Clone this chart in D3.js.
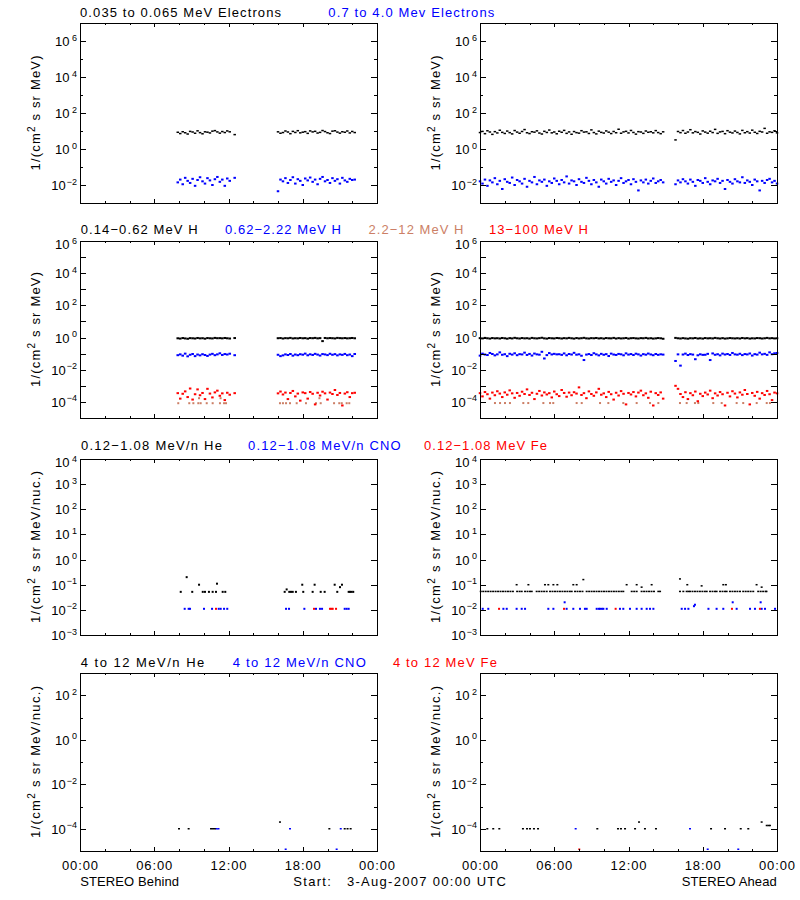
<!DOCTYPE html>
<html><head><meta charset="utf-8">
<script src="https://cdn.jsdelivr.net/npm/d3@7"></script>
<style>body{margin:0;background:#fff}svg{display:block}text{font-family:"Liberation Sans",Arial,sans-serif}</style>
</head><body><svg id="c" width="800" height="900"></svg>
<script>
// ---------------- DATA ----------------
const STEP = 0.2;                       // hours between samples in sampled series
const behindStart = [7.9, 16.0];        // start hour of each data segment (STEREO Behind)
const aheadStart = [0.0, 15.8];         // start hour of each data segment (STEREO Ahead)

// Row 1: electrons
const behindELow = [
 [8.5,7.2,9.1,8.0,6.8,9.5,8.8,7.5,10.2,8.1,7.0,9.0,8.6,7.8,9.8,10.5,8.9,7.6,9.3,8.2,10.1,9.0,null,6.3],
 [9.0,7.5,8.2,10.0,8.8,7.1,9.5,8.3,10.4,7.9,8.6,9.2,7.4,10.1,8.9,9.6,7.7,8.4,10.6,9.3,8.0,7.2,9.8,10.3,8.7,7.6,9.1,8.5,10.0,7.8,9.4,8.2]];
const behindEHigh = [
 [0.014,0.02,0.011,0.025,0.017,0.013,0.022,0.009,0.019,0.027,0.016,0.012,0.024,0.018,0.01,0.021,0.028,0.015,0.02,0.009,0.023,0.017,null,0.025],
 [0.0045,0.02,0.016,0.024,0.013,0.019,0.027,0.012,0.021,0.017,0.01,0.023,0.018,0.026,0.015,0.02,0.011,0.022,0.028,0.016,0.019,0.013,0.024,0.017,0.021,0.012,0.025,0.018,0.015,0.022,0.019,0.02]];
const aheadELow = [
 [8.2,9.5,7.1,10.3,8.8,6.5,9.2,7.8,11.0,8.4,7.3,9.9,8.1,6.9,10.6,
  8.7,7.5,9.4,12.0,8.0,7.2,9.1,8.6,10.2,7.7,6.8,9.6,8.3,11.3,7.9,
  8.8,7.0,9.7,8.5,10.8,7.4,8.9,6.6,9.3,8.1,7.6,10.4,8.7,9.0,7.3,
  11.5,8.2,6.9,9.8,8.4,7.7,10.1,8.6,7.2,9.4,8.0,12.5,7.5,8.9,9.6,
  7.8,10.7,8.3,6.7,9.2,8.8,7.4,10.0,8.5,9.1,7.9,10.5,8.2,7.1,9.0],
 [3.2,9.4,8.1,10.6,7.5,8.8,11.8,7.9,9.3,8.4,6.8,10.1,8.7,7.6,
  9.7,8.2,12.3,7.4,8.9,9.5,7.1,10.4,8.6,7.8,9.9,8.3,6.9,10.8,
  8.0,9.2,7.7,11.1,8.5,7.3,9.6,8.8,14.0,7.5,9.0,8.4,10.3,7.9]];
const aheadEHigh = [
 [0.016,0.012,0.02,0.009,0.018,0.014,0.024,0.011,0.017,0.006,0.021,0.015,0.013,0.026,0.01,
  0.019,0.016,0.012,0.022,0.008,0.017,0.014,0.028,0.011,0.018,0.015,0.02,0.009,0.016,0.013,
  0.023,0.017,0.011,0.019,0.014,0.03,0.012,0.018,0.016,0.01,0.021,0.015,0.013,0.025,0.017,
  0.011,0.019,0.014,0.008,0.02,0.016,0.012,0.022,0.015,0.018,0.01,0.017,0.024,0.013,0.016,
  0.019,0.011,0.021,0.015,0.005,0.018,0.014,0.02,0.012,0.017,0.023,0.013,0.016,0.019,0.014],
 [0.011,0.018,0.014,0.021,0.016,0.012,0.02,0.015,0.009,0.019,0.017,0.013,0.024,0.015,
  0.011,0.018,0.016,0.022,0.013,0.017,0.006,0.019,0.015,0.012,0.021,0.016,0.014,0.027,
  0.013,0.018,0.015,0.01,0.02,0.016,0.005,0.017,0.013,0.019,0.022,0.014,0.017,0.012]];

// Row 2: protons
const behindH1 = [
 [0.9,0.86,0.93,0.88,0.84,0.92,0.9,0.87,0.94,0.89,0.91,0.85,0.93,0.9,0.88,0.95,0.91,0.92,0.89,0.94,0.9,0.87,null,0.93],
 [0.91,0.93,0.87,0.92,0.9,0.95,0.88,0.91,0.89,0.94,0.9,0.92,0.86,0.93,0.91,0.95,0.89,0.92,0.6,0.94,0.9,0.93,0.91,0.88,0.95,0.92,0.9,0.93,0.89,0.91,0.94,0.9]];
const behindH2 = [
 [0.08,0.09,0.075,0.1,0.068,0.085,0.095,0.07,0.088,0.078,0.092,0.082,0.072,0.087,0.097,0.08,0.09,0.105,0.083,0.094,0.088,0.099,null,0.08],
 [0.085,0.07,0.078,0.09,0.082,0.095,0.075,0.088,0.08,0.092,0.086,0.1,0.079,0.091,0.083,0.097,0.087,0.076,0.094,0.089,0.081,0.098,0.085,0.093,0.078,0.09,0.084,0.096,0.08,0.088,0.07,0.095]];
const behindH4 = [
 [3.5e-4,1.6e-4,3.2e-4,4.5e-4,2.0e-4,6.8e-4,1.4e-4,3.0e-4,6.0e-4,2.6e-4,3.6e-4,1.5e-4,6.5e-4,3.3e-4,1.9e-4,3.9e-4,5.0e-4,2.4e-4,3.4e-4,1.3e-4,3.7e-4,2.8e-4,null,3.5e-4],
 [3.4e-4,4.4e-4,2.9e-4,3.8e-4,1.5e-4,3.6e-4,4.8e-4,2.2e-4,3.3e-4,1.2e-4,3.9e-4,3.5e-4,1.6e-4,4.1e-4,3.2e-4,7.0e-5,3.7e-4,2.5e-4,4.3e-4,3.4e-4,1.4e-4,3.8e-4,3.1e-4,5.5e-4,2.7e-4,3.6e-4,6.0e-5,3.3e-4,4.0e-4,2.0e-4,3.5e-4,3.7e-4]];
const behindH3 = [[7.94,8.3e-5],[8.83,8.3e-5],[9.16,8.3e-5],[9.56,8.3e-5],[9.62,1.7e-4],[9.75,8.3e-5],[10.24,8.3e-5],[10.72,8.3e-5],
 [11.31,8.3e-5],[11.36,1.7e-4],[11.64,8.3e-5],[11.8,8.3e-5],[16.16,8.3e-5],[16.4,8.3e-5],[16.65,8.3e-5],[16.97,8.3e-5],[17.51,8.3e-5],
 [18.26,8.3e-5],[19.07,8.3e-5],[19.35,1.7e-4],[19.45,8.3e-5],[20.53,8.3e-5],[20.95,8.3e-5],[21.15,8.3e-5],[21.55,8.3e-5],[21.76,8.3e-5]];

const aheadH1 = [
 [0.92,0.88,0.95,0.9,0.86,0.93,0.89,0.91,0.87,0.94,0.9,0.85,0.92,0.88,0.96,
  0.9,0.87,0.93,0.89,0.91,0.86,0.95,0.9,0.88,0.92,0.97,0.89,0.86,0.93,0.9,
  0.88,0.94,0.91,0.87,0.92,0.89,0.95,0.9,0.86,0.93,0.88,0.91,0.96,0.89,0.87,
  0.92,0.9,0.94,0.88,0.91,0.86,0.93,0.9,0.89,0.95,0.87,0.92,0.88,0.9,0.94,
  0.86,0.91,0.93,0.89,0.87,0.92,0.9,0.95,0.88,0.91,0.86,0.89,0.93,0.9,0.84],
 [0.95,0.9,0.87,0.92,0.88,0.85,0.91,0.89,0.94,0.87,0.9,0.86,0.93,0.89,
  0.91,0.88,0.95,0.9,0.87,0.92,0.86,0.89,0.93,0.9,0.88,0.91,0.87,0.94,
  0.89,0.92,0.86,0.9,0.88,0.93,0.91,0.87,0.9,0.95,0.89,0.92,0.88,0.9]];
const aheadH2 = [
 [0.075,0.1,0.088,0.082,0.11,0.095,0.078,0.09,0.12,0.085,0.092,0.07,0.098,0.087,0.105,
  0.08,0.093,0.089,0.115,0.083,0.096,0.076,0.101,0.09,0.086,0.13,0.05,0.081,0.108,0.089,
  0.097,0.09,0.092,0.084,0.103,0.079,0.095,0.088,0.112,0.086,0.091,0.074,0.04,0.087,0.094,
  0.082,0.106,0.09,0.078,0.097,0.085,0.093,0.071,0.1,0.088,0.083,0.096,0.091,0.079,0.104,
  0.087,0.094,0.082,0.099,0.09,0.076,0.093,0.086,0.101,0.089,0.08,0.095,0.084,0.091,0.087],
 [0.035,0.09,0.018,0.088,0.1,0.082,0.093,0.087,0.045,0.079,0.091,0.084,0.085,0.097,
  0.04,0.103,0.085,0.092,0.078,0.1,0.088,0.095,0.083,0.11,0.09,0.086,0.098,0.081,
  0.094,0.089,0.102,0.076,0.093,0.087,0.115,0.09,0.097,0.084,0.12,0.092,0.105,0.11]];
const aheadH4 = [
 [3.5e-4,2.2e-4,4.1e-4,3.0e-4,1.6e-4,3.8e-4,2.6e-4,4.6e-4,3.3e-4,2.0e-4,3.9e-4,2.8e-4,5.2e-4,3.4e-4,1.8e-4,
  3.6e-4,2.4e-4,4.3e-4,3.1e-4,6.0e-4,2.7e-4,3.7e-4,1.5e-4,3.2e-4,4.8e-4,2.5e-4,3.9e-4,2.9e-4,3.5e-4,1.9e-4,
  4.4e-4,3.0e-4,2.3e-4,5.5e-4,3.6e-4,2.1e-4,3.8e-4,2.6e-4,4.0e-4,3.3e-4,8.0e-4,2.7e-4,3.5e-4,1.7e-4,4.5e-4,
  3.1e-4,2.4e-4,3.9e-4,6.5e-4,2.8e-4,3.4e-4,2.0e-4,4.2e-4,3.0e-4,1.4e-4,3.7e-4,2.5e-4,4.7e-4,3.2e-4,7.0e-5,
  3.6e-4,2.9e-4,4.1e-4,2.2e-4,3.8e-4,5.0e-4,2.6e-4,3.4e-4,1.8e-4,4.3e-4,6.0e-5,3.5e-4,2.7e-4,3.9e-4,1.6e-4],
 [1.0e-3,6.5e-4,3.1e-4,2.0e-4,4.0e-4,1.5e-4,3.5e-4,2.6e-4,4.4e-4,1.1e-4,3.2e-4,2.3e-4,3.8e-4,2.9e-4,
  5.0e-4,1.7e-4,3.4e-4,2.5e-4,4.1e-4,3.0e-4,6.0e-5,3.7e-4,2.2e-4,4.6e-4,3.3e-4,1.9e-4,3.9e-4,2.8e-4,
  5.5e-4,3.1e-4,7.0e-5,3.6e-4,2.4e-4,4.2e-4,1.6e-4,3.5e-4,2.7e-4,4.8e-4,3.0e-4,1.3e-4,3.8e-4,3.4e-4]];
const aheadH3 = [[1.21,8.5e-5],[1.62,8.5e-5],[2.02,8.5e-5],[2.42,8.5e-5],[3.5,8.5e-5],[3.9,8.5e-5],[5.12,8.5e-5],[5.66,8.5e-5],
 [5.92,8.5e-5],[7.81,8.5e-5],[8.22,8.5e-5],[9.7,8.5e-5],[10.37,8.5e-5],[11.58,8.5e-5],[12.66,8.5e-5],[13.74,8.5e-5],[14.41,8.5e-5],
 [16.16,8.5e-5],[16.7,8.5e-5],[17.37,8.5e-5],[17.64,8.5e-5],[18.85,8.5e-5],[19.53,8.5e-5],[20.74,8.5e-5],[21.27,8.5e-5],
 [22.36,8.5e-5],[23.17,8.5e-5],[23.43,8.5e-5]];

// Row 3: 0.12-1.08 MeV/n heavy ions  [hour, flux]
const behindHeLo = [[8.14,0.052],[8.62,0.2],[9.07,0.052],[9.62,0.1],[9.92,0.052],[10.1,0.052],[10.42,0.052],[10.72,0.052],
 [10.99,0.052],[11.07,0.11],[11.53,0.052],[11.74,0.052],[16.54,0.052],[16.7,0.065],[16.91,0.052],[17.05,0.052],[17.19,0.052],
 [17.45,0.052],[17.96,0.1],[18.04,0.052],[18.8,0.052],[18.96,0.1],[19.45,0.052],[19.77,0.052],[20.58,0.1],[20.79,0.052],
 [21.01,0.08],[21.17,0.1],[21.71,0.052],[21.82,0.052],[21.94,0.052],[22.08,0.052]];
const behindCNOLo = [[8.46,0.011],[8.78,0.011],[8.89,0.011],[10.02,0.011],[10.67,0.011],[11.21,0.011],[11.37,0.011],[11.64,0.011],
 [11.9,0.011],[16.65,0.011],[16.89,0.011],[18.13,0.011],[19.07,0.011],[19.39,0.011],[19.56,0.011],[21.39,0.011],[21.55,0.011],[21.71,0.011]];
const behindFeLo = [[10.99,0.011],[18.91,0.011],[20.2,0.011],[20.32,0.011],[20.42,0.011],[20.69,0.011]];

const aheadHeLoBase = [0.06,0.26,0.46,0.66,0.86,1.06,1.26,1.46,1.66,1.86,2.06,2.26,2.46,2.66,3.0,3.2,3.37,3.64,3.84,4.04,4.18,
 4.58,4.78,4.98,5.18,5.39,5.66,5.86,6.06,6.26,6.46,6.66,6.86,7.06,7.26,7.41,7.68,7.88,8.08,8.28,8.62,8.82,9.02,9.22,9.42,9.62,
 9.82,10.02,10.22,10.42,10.62,10.82,11.02,11.22,11.42,11.58,12.26,12.46,12.66,13.06,13.26,13.46,13.66,13.86,14.06,14.41,14.55,
 16.16,16.43,16.7,16.84,16.97,17.17,17.37,17.57,17.77,17.97,18.17,18.32,18.59,18.79,18.99,19.12,19.4,19.6,19.8,19.93,20.2,
 20.4,20.6,20.8,21.01,21.27,21.47,21.67,21.87,22.08,22.48,22.68,22.88,23.08,23.15];
const aheadHeLoBaseLevel = 0.054;
const aheadHeLoHigh = [[2.96,0.1],[3.91,0.1],[5.25,0.1],[5.52,0.1],[5.93,0.1],[6.25,0.1],[7.54,0.1],[7.81,0.1],[8.35,0.16],
 [11.85,0.1],[12.66,0.1],[13.06,0.08],[13.87,0.1],[16.16,0.17],[16.75,0.1],[17.91,0.09],[19.66,0.1],[19.87,0.1],[22.35,0.1],[22.76,0.08]];
const aheadCNOLo = [[0.22,0.011],[0.67,0.011],[1.89,0.011],[2.16,0.011],[2.96,0.011],[3.37,0.011],[3.64,0.011],[5.52,0.011],
 [5.93,0.011],[6.84,0.02],[7.0,0.011],[7.54,0.011],[8.08,0.011],[8.48,0.011],[8.62,0.011],[9.43,0.011],[9.6,0.011],[9.7,0.011],
 [9.85,0.011],[9.97,0.011],[10.24,0.011],[11.31,0.011],[11.58,0.011],[12.12,0.011],[12.66,0.011],[13.06,0.011],[13.47,0.011],
 [13.74,0.011],[14.01,0.011],[16.3,0.011],[16.57,0.011],[16.84,0.011],[17.29,0.014],[17.37,0.016],[18.46,0.011],[19.12,0.011],
 [19.66,0.011],[20.42,0.02],[20.74,0.011],[21.82,0.011],[22.22,0.011],[22.68,0.02],[22.76,0.011],[23.03,0.011],[23.84,0.011]];
const aheadFeLo = [[1.54,0.011],[6.79,0.011],[10.96,0.011],[20.36,0.011],[22.62,0.011]];

// Row 4: 4-12 MeV/n heavy ions  [hour, flux]
const behindHeHi = [[8.0,1e-4],[8.78,1e-4],[10.59,1e-4],[10.75,1e-4],[10.91,1e-4],[16.16,2e-4],[20.15,1e-4],[21.39,1e-4],[21.62,1e-4],[21.87,1e-4]];
const behindCNOHi = [[11.05,1e-4],[11.19,1e-4],[16.62,1.2e-5],[16.97,1e-4],[20.74,1.2e-5],[21.07,1e-4]];
const behindFeHi = [];
const aheadHeHi = [[0.59,1e-4],[1.07,1e-4],[1.56,1e-4],[3.47,1e-4],[3.8,1e-4],[4.04,1e-4],[4.36,1e-4],[4.69,1e-4],[9.48,1e-4],
 [11.15,1e-4],[11.39,1e-4],[11.72,1e-4],[12.53,1e-4],[12.85,2e-4],[13.33,1e-4],[14.22,1e-4],[18.67,1e-4],[19.8,1e-4],[21.07,1e-4],
 [21.68,1e-4],[22.76,2e-4],[23.17,1.4e-4],[23.31,1.4e-4],[23.43,1.4e-4]];
const aheadCNOHi = [[7.73,1e-4],[16.97,1e-4],[18.4,1.2e-5],[20.87,1.2e-5]];
const aheadFeHi = [[8.02,1.2e-5]];

// Axis / label text
const rowTitles = [
 ["0.035 to 0.065 MeV Electrons", "0.7 to 4.0 Mev Electrons"],
 ["0.14\u22120.62 MeV H", "0.62\u22122.22 MeV H", "2.2\u221212 MeV H", "13\u2212100 MeV H"],
 ["0.12\u22121.08 MeV/n He", "0.12\u22121.08 MeV/n CNO", "0.12\u22121.08 MeV Fe"],
 ["4 to 12 MeV/n He", "4 to 12 MeV/n CNO", "4 to 12 MeV Fe"]];
const yTitleUnits = ["MeV)", "MeV)", "MeV/nuc.)", "MeV/nuc.)"];
const hourTicks = [0, 6, 12, 18, 24];
const hourLabels = ["00:00", "06:00", "12:00", "18:00", "00:00"];
const footer = ["STEREO Behind", "Start:   3-Aug-2007 00:00 UTC", "STEREO Ahead"];

// ---------------- LAYOUT / STYLE ----------------
const BLUE = "#0000ff", RED = "#ff0000", SIENNA = "#cc7f66", BLACK = "#000";
const colX = [80, 480], plotW = 297;
const rowTop = [23, 241, 459, 673], rowBot = [203, 418, 635, 851];
const rowDomain = [[1e-3, 1e7], [1e-5, 1e6], [1e-3, 1e4], [1e-5, 1e3]];
const rowDecades = [[-3, 7], [-5, 6], [-3, 4], [-5, 3]];
const rowMajorAll = [false, true, true, false];
const rowLabelAll = [false, false, true, false];
const titleColors = [[BLACK, BLUE], [BLACK, BLUE, SIENNA, RED], [BLACK, BLUE, RED], [BLACK, BLUE, RED]];
const titleX = [[80, 328.3], [80.7, 225, 368.5, 489], [81, 248, 424], [80.7, 232.8, 392.9]];
const titleW = [[201, 166], [117, 116, 95, 99], [141, 152.6, 123], [123.6, 133, 104]];
const titleGap = [6, 7, 9, 6];

const svg = d3.select("#c");

function segPts(starts, segs) {
  const out = [];
  segs.forEach((s, i) => s.forEach((v, j) => { if (v != null) out.push({t: starts[i] + j * STEP, v}); }));
  return out;
}
const pairPts = arr => arr.map(([t, v]) => ({t, v}));

const panelSeries = [
 [[{pts: segPts(behindStart, behindELow), c: BLACK, w: 2.5, h: 1.5}, {pts: segPts(behindStart, behindEHigh), c: BLUE, w: 2.5, h: 2}],
  [{pts: segPts(aheadStart, aheadELow), c: BLACK, w: 2.5, h: 1.5}, {pts: segPts(aheadStart, aheadEHigh), c: BLUE, w: 2.5, h: 2}]],
 [[{pts: segPts(behindStart, behindH1), c: BLACK, w: 2.6, h: 2}, {pts: segPts(behindStart, behindH2), c: BLUE, w: 2.6, h: 2},
   {pts: pairPts(behindH3), c: SIENNA, w: 2, h: 2}, {pts: segPts(behindStart, behindH4), c: RED, w: 2.5, h: 2}],
  [{pts: segPts(aheadStart, aheadH1), c: BLACK, w: 2.6, h: 2}, {pts: segPts(aheadStart, aheadH2), c: BLUE, w: 2.6, h: 2},
   {pts: pairPts(aheadH3), c: SIENNA, w: 2, h: 2}, {pts: segPts(aheadStart, aheadH4), c: RED, w: 2.5, h: 2}]],
 [[{pts: pairPts(behindHeLo), c: BLACK, w: 2, h: 2}, {pts: pairPts(behindCNOLo), c: BLUE, w: 2, h: 2}, {pts: pairPts(behindFeLo), c: RED, w: 2, h: 2}],
  [{pts: aheadHeLoBase.map(t => ({t, v: aheadHeLoBaseLevel})).concat(pairPts(aheadHeLoHigh)), c: BLACK, w: 2, h: 1.5},
   {pts: pairPts(aheadCNOLo), c: BLUE, w: 2, h: 2}, {pts: pairPts(aheadFeLo), c: RED, w: 2, h: 2}]],
 [[{pts: pairPts(behindHeHi), c: BLACK, w: 2, h: 1.5}, {pts: pairPts(behindCNOHi), c: BLUE, w: 2, h: 1.5}, {pts: pairPts(behindFeHi), c: RED, w: 2, h: 1.5}],
  [{pts: pairPts(aheadHeHi), c: BLACK, w: 2, h: 1.5}, {pts: pairPts(aheadCNOHi), c: BLUE, w: 2, h: 1.5}, {pts: pairPts(aheadFeHi), c: RED, w: 2, h: 1.5}]]
];

const minorHours = [2, 4, 8, 10, 14, 16, 20, 22];

function clean(sel) { sel.select(".domain").remove(); sel.selectAll("line").attr("stroke", "#000").attr("shape-rendering", "crispEdges"); }

function drawPanel(row, col) {
  const x0 = colX[col], x1 = x0 + plotW, top = rowTop[row], bot = rowBot[row];
  const x = d3.scaleLinear().domain([0, 24]).range([x0, x1]);
  const y = d3.scaleLog().domain(rowDomain[row]).range([bot, top]);
  const g = svg.append("g");

  panelSeries[row][col].forEach(s => {
    g.append("g").selectAll("rect").data(s.pts).join("rect")
      .attr("x", d => x(d.t) - s.w / 2).attr("y", d => y(d.v) - s.h / 2)
      .attr("width", s.w).attr("height", s.h).attr("fill", s.c);
  });

  // frame
  g.append("rect").attr("x", x0 + 0.5).attr("y", top + 0.5).attr("width", plotW).attr("height", bot - top)
    .attr("fill", "none").attr("stroke", "#000").attr("stroke-width", 1).attr("shape-rendering", "crispEdges");

  const xLenMaj = 0.02 * (bot - top), yLenMaj = 0.02 * plotW;
  [[d3.axisBottom, bot], [d3.axisTop, top]].forEach(([ax, pos]) => {
    g.append("g").attr("transform", `translate(0,${pos})`).call(ax(x).tickValues(hourTicks).tickSize(-xLenMaj).tickFormat("")).call(clean);
    g.append("g").attr("transform", `translate(0,${pos})`).call(ax(x).tickValues(minorHours).tickSize(-xLenMaj / 2).tickFormat("")).call(clean);
  });

  const [dLo, dHi] = rowDecades[row];
  const decs = d3.range(dLo, dHi + 1);
  const major = decs.filter(e => rowMajorAll[row] || e % 2 === 0).map(e => Math.pow(10, e));
  const minor = decs.filter(e => !(rowMajorAll[row] || e % 2 === 0)).map(e => Math.pow(10, e));
  [[d3.axisLeft, x0], [d3.axisRight, x1]].forEach(([ax, pos]) => {
    g.append("g").attr("transform", `translate(${pos},0)`).call(ax(y).tickValues(major).tickSize(-yLenMaj).tickFormat("")).call(clean);
    if (minor.length) g.append("g").attr("transform", `translate(${pos},0)`).call(ax(y).tickValues(minor).tickSize(-yLenMaj / 2).tickFormat("")).call(clean);
  });

  // y tick labels
  decs.filter(e => rowLabelAll[row] || e % 2 === 0).forEach(e => {
    const yy = y(Math.pow(10, e));
    const t = g.append("text").attr("x", x0 - 3).attr("y", yy + 5 + (yy - top < 3 ? 3 : 0))
      .attr("text-anchor", "end").attr("font-size", 13).attr("fill", "#000");
    t.append("tspan").text("10");
    t.append("tspan").attr("dy", -5.5).attr("dx", e < 0 ? 1 : 2.5).attr("font-size", 9).text(e < 0 ? "\u2212" + (-e) : String(e));
  });

  // y axis title
  const yl = g.append("text").attr("transform", `translate(${x0 - 40},${(top + bot) / 2}) rotate(-90)`)
    .attr("text-anchor", "middle").attr("font-size", 13).attr("fill", "#000")
    .attr("textLength", row < 2 ? 115 : 152).attr("lengthAdjust", "spacing");
  yl.append("tspan").text("1/(cm");
  yl.append("tspan").attr("dy", -5).attr("font-size", 10).text("2");
  yl.append("tspan").attr("dy", 5).text(" s sr " + yTitleUnits[row]);

  // hour labels on bottom row
  if (row === 3) {
    hourTicks.forEach((h, i) => {
      g.append("text").attr("x", x(h)).attr("y", 869.5).attr("text-anchor", "middle").attr("font-size", 13)
        .attr("textLength", 36).attr("lengthAdjust", "spacing").text(hourLabels[i]);
    });
  }
}

for (let r = 0; r < 4; r++) for (let c = 0; c < 2; c++) drawPanel(r, c);

// row titles
rowTitles.forEach((titles, r) => {
  titles.forEach((txt, i) => {
    svg.append("text").attr("x", titleX[r][i]).attr("y", rowTop[r] - titleGap[r]).attr("font-size", 13)
      .attr("fill", titleColors[r][i]).attr("textLength", titleW[r][i]).attr("lengthAdjust", "spacing")
      .style("white-space", "pre").text(txt);
  });
});

// footer
const footX = [80.3, 293.3, 681.7], footW = [98.7, 212.7, 95];
footer.forEach((txt, i) => {
  svg.append("text").attr("x", footX[i]).attr("y", 885.5).attr("font-size", 13)
    .attr("textLength", footW[i]).attr("lengthAdjust", "spacing").style("white-space", "pre").text(txt);
});
</script></body></html>
